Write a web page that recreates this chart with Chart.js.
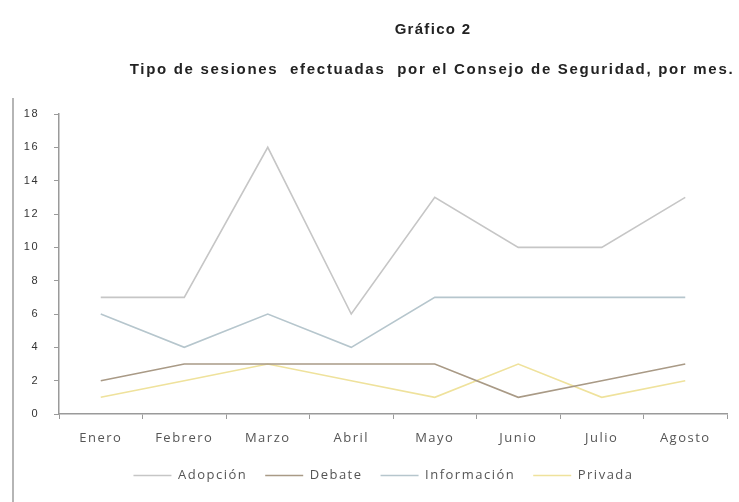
<!DOCTYPE html>
<html>
<head>
<meta charset="utf-8">
<script src="https://cdn.jsdelivr.net/npm/chart.js@4/dist/chart.umd.min.js"></script>
<style>
  html, body { margin: 0; padding: 0; background: #ffffff; }
  #wrap { position: relative; width: 739px; height: 502px; overflow: hidden; }
  #c { position: absolute; left: 0; top: 0; }
  .t { position: absolute; font-family: "Liberation Sans", Arial, sans-serif; font-weight: bold; color: #222; white-space: pre; text-align: center; }
  #t1 { left: 333px; width: 200px; top: 20px; font-size: 15px; letter-spacing: 1.3px; }
  #t2 { left: 112px; width: 640px; top: 60px; font-size: 15px; letter-spacing: 1.7px; }
  #frame { position: absolute; left: 12px; top: 98px; width: 0; height: 404px; border-left: 2px solid #b5b5b5; }
</style>
</head>
<body>
<div id="wrap">
  <canvas id="c" width="739" height="502"></canvas>
  <div class="t" id="t1">Gráfico 2</div>
  <div class="t" id="t2">Tipo de sesiones  efectuadas  por el Consejo de Seguridad, por mes.</div>
  <div id="frame"></div>
</div>
<script>
const categories = ["Enero", "Febrero", "Marzo", "Abril", "Mayo", "Junio", "Julio", "Agosto"];
const adopcion    = [7, 7, 16, 6, 13, 10, 10, 13];
const debate      = [2, 3, 3, 3, 3, 1, 2, 3];
const informacion = [6, 4, 6, 4, 7, 7, 7, 7];
const privada     = [1, 2, 3, 2, 1, 3, 1, 2];
const seriesNames = ["Adopción", "Debate", "Información", "Privada"];
const yTicks = [0, 2, 4, 6, 8, 10, 12, 14, 16, 18];

const colors = ["#c6c6c6", "#a99a86", "#b6c6cd", "#efe29c"];
const seriesData = [adopcion, debate, informacion, privada];

const spacing = {
  id: "spacing",
  beforeUpdate(chart) { chart.ctx.letterSpacing = "1.5px"; },
  beforeLayout(chart) { chart.ctx.letterSpacing = "1.5px"; },
  beforeDraw(chart) { chart.ctx.letterSpacing = "1.5px"; }
};

const legendShift = {
  id: "legendShift",
  afterLayout(chart) {
    const l = chart.legend;
    if (l) { l.left += 20; l.right += 20; }
  }
};

new Chart(document.getElementById("c"), {
  type: "line",
  data: {
    labels: categories,
    datasets: seriesNames.map((name, i) => ({
      label: name,
      data: seriesData[i],
      borderColor: colors[i],
      backgroundColor: colors[i],
      borderWidth: 1.6,
      pointRadius: 0,
      pointHoverRadius: 0,
      tension: 0,
      fill: false
    }))
  },
  options: {
    responsive: false,
    animation: false,
    devicePixelRatio: 1,
    layout: { padding: { top: 114, right: 12, bottom: 10, left: 0 } },
    plugins: {
      title: { display: false },
      tooltip: { enabled: false },
      legend: {
        position: "bottom",
        labels: {
          usePointStyle: true,
          pointStyle: "line",
          pointStyleWidth: 38,
          boxHeight: 10,
          padding: 18,
          color: "#555",
          font: { family: "'Open Sans', sans-serif", size: 13 }
        }
      }
    },
    scales: {
      x: {
        offset: true,
        grid: { offset: true, drawOnChartArea: false, drawTicks: true, tickLength: 5, color: "#9a9a9a" },
        border: { color: "#9a9a9a", width: 1.5 },
        ticks: { color: "#555", padding: 11, maxRotation: 0, autoSkip: false, font: { family: "'Open Sans', sans-serif", size: 13 } },
        afterFit(scale) { scale.height = 37; }
      },
      y: {
        min: 0,
        max: 18,
        afterBuildTicks(scale) { scale.ticks = yTicks.map(v => ({ value: v })); },
        grid: { drawOnChartArea: false, drawTicks: true, tickLength: 5, color: "#9a9a9a" },
        border: { color: "#9a9a9a", width: 1.5 },
        ticks: { color: "#333", padding: 15, font: { family: "'Liberation Sans', sans-serif", size: 11 } },
        afterFit(scale) { scale.width = 59; }
      }
    }
  },
  plugins: [spacing, legendShift]
});
</script>
</body>
</html>
